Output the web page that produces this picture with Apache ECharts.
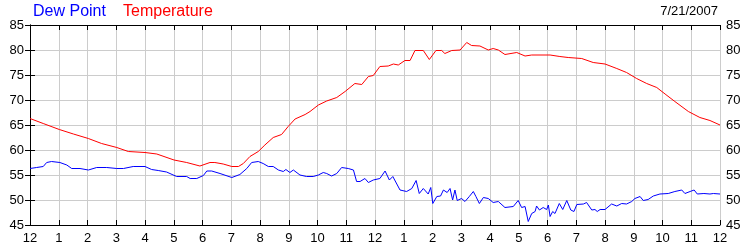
<!DOCTYPE html>
<html>
<head>
<meta charset="utf-8">
<script src="https://cdn.jsdelivr.net/npm/echarts@6/dist/echarts.min.js"></script>
<style>
html,body{margin:0;padding:0;background:#fff;}
#chart{width:750px;height:250px;}
</style>
</head>
<body>
<div id="chart"></div>
<script>
// hours since midnight
var tempHours = [0,0.46,1.02,1.51,2.03,2.49,3.02,3.42,4.0,4.41,5.01,5.45,5.91,6.26,6.43,6.72,7.02,7.25,7.42,7.65,7.94,8.17,8.46,8.75,8.98,9.22,9.57,9.74,10.03,10.32,10.67,10.96,11.30,11.54,11.77,11.94,12.17,12.46,12.64,12.81,13.04,13.22,13.39,13.68,13.89,14.12,14.32,14.43,14.67,14.96,15.19,15.36,15.65,15.94,16.11,16.29,16.52,16.93,17.22,17.45,18.09,18.43,18.72,19.19,19.59,20.0,20.41,20.75,21.10,21.45,21.80,22.09,22.43,22.90,23.30,23.65,24.0];
var tempValues = [66.3,65.3,64.1,63.2,62.3,61.3,60.5,59.7,59.5,59.2,58.0,57.5,56.8,57.5,57.5,57.2,56.7,56.7,57.3,58.7,59.7,61.0,62.5,63.1,64.7,66.2,67.1,67.7,69.0,69.8,70.5,71.7,73.3,73.1,74.7,74.9,76.7,76.8,77.2,77.0,77.9,77.9,79.9,79.9,78.1,79.9,79.9,79.3,79.9,80.0,81.5,80.9,80.8,80.0,80.3,80.0,79.1,79.5,78.8,79.0,79.0,78.7,78.5,78.3,77.5,77.2,76.3,75.5,74.3,73.3,72.5,71.2,69.7,67.7,66.5,65.9,65.0];

var dewHours = [0,0.23,0.46,0.58,0.75,1.04,1.28,1.45,1.74,2.03,2.32,2.67,3.02,3.25,3.59,4.0,4.23,4.46,4.75,5.10,5.45,5.57,5.80,6.03,6.15,6.32,6.61,7.02,7.30,7.54,7.71,7.94,8.11,8.29,8.46,8.64,8.81,8.90,9.04,9.16,9.39,9.62,9.85,10.03,10.20,10.32,10.49,10.67,10.84,11.07,11.25,11.36,11.48,11.65,11.77,11.94,12.17,12.35,12.50,12.62,12.87,13.10,13.28,13.43,13.54,13.68,13.85,13.94,14.01,14.15,14.28,14.38,14.51,14.61,14.70,14.78,14.86,15.01,15.13,15.28,15.42,15.51,15.63,15.77,15.94,16.11,16.29,16.52,16.81,16.98,17.10,17.22,17.33,17.45,17.57,17.62,17.72,17.85,17.97,18.03,18.09,18.18,18.26,18.41,18.53,18.67,18.81,18.92,19.02,19.25,19.36,19.54,19.65,19.73,19.83,20.0,20.23,20.41,20.58,20.75,20.93,21.04,21.22,21.33,21.50,21.68,21.91,22.20,22.43,22.67,22.78,22.96,23.10,23.21,23.44,23.65,23.77,24.0];
var dewValues = [56.3,56.5,56.7,57.5,57.7,57.5,57.0,56.3,56.3,56.0,56.5,56.5,56.3,56.3,56.7,56.7,56.1,55.9,55.6,54.7,54.7,54.3,54.3,54.9,55.8,55.8,55.3,54.5,55.1,56.3,57.5,57.7,57.3,56.7,56.7,56.0,55.7,56.1,55.5,56.0,55.0,54.7,54.7,55.0,55.5,55.3,54.8,55.3,56.5,56.3,56.0,53.7,53.7,54.3,53.5,54.0,54.3,55.8,54.0,54.7,52.0,51.7,52.3,53.9,51.3,52.3,51.2,52.5,49.3,50.7,50.8,52.0,51.5,52.3,50.0,52.0,49.9,50.3,49.7,50.7,51.7,50.7,49.3,50.5,50.3,49.5,49.7,48.5,48.7,49.9,48.5,48.7,45.7,47.3,47.7,48.8,48.0,48.5,48.1,49.0,46.7,47.7,47.3,49.3,48.1,49.9,48.0,47.7,49.1,49.2,49.5,48.0,48.1,47.7,48.1,48.1,49.2,48.8,49.3,49.2,49.7,50.3,50.7,49.9,50.1,50.8,51.2,51.3,51.7,52.0,51.3,51.7,52.0,51.2,51.3,51.2,51.3,51.2];

var hourLabels = ['12','1','2','3','4','5','6','7','8','9','10','11','12','1','2','3','4','5','6','7','8','9','10','11','12'];
var dateText = '7/21/2007';

function pairs(xs, ys){ return xs.map(function(x,i){ return [x, ys[i]]; }); }

var chart = echarts.init(document.getElementById('chart'), null, {renderer:'canvas'});
var labelFont = {color:'#000', fontSize:13, fontFamily:'Arial, "Liberation Sans", sans-serif'};
var gridLine = {show:true, lineStyle:{color:'#cccccc', width:1}};
var blackLine = {show:true, lineStyle:{color:'#000', width:1}};
chart.setOption({
  animation:false,
  backgroundColor:'#fff',
  grid:{left:30, right:30, top:25, bottom:25, containLabel:false},
  graphic:[
    {type:'text', left:33, top:4, style:{text:'Dew Point', fill:'#0000ff', font:'16px Arial, "Liberation Sans", sans-serif'}},
    {type:'text', left:123, top:4, style:{text:'Temperature', fill:'#ff0000', font:'16px Arial, "Liberation Sans", sans-serif'}},
    {type:'text', right:32, top:5, style:{text:dateText, fill:'#000', font:'13px Arial, "Liberation Sans", sans-serif'}}
  ],
  xAxis:[
    {type:'value', min:0, max:24, interval:1, position:'bottom',
     axisLine:blackLine, axisTick:{show:true, inside:true, length:5, lineStyle:{color:'#000'}},
     axisLabel:Object.assign({margin:7, formatter:function(v){return hourLabels[Math.round(v)];}}, labelFont),
     splitLine:gridLine},
    {type:'value', min:0, max:24, interval:1, position:'top',
     axisLine:blackLine, axisTick:{show:true, inside:true, length:5, lineStyle:{color:'#000'}},
     axisLabel:{show:false}, splitLine:{show:false}}
  ],
  yAxis:[
    {type:'value', min:45, max:85, interval:5, position:'left',
     axisLine:blackLine, axisTick:{show:true, inside:true, length:5, lineStyle:{color:'#000'}},
     axisLabel:Object.assign({margin:6}, labelFont), splitLine:gridLine},
    {type:'value', min:45, max:85, interval:5, position:'right',
     axisLine:blackLine, axisTick:{show:true, inside:true, length:5, lineStyle:{color:'#000'}},
     axisLabel:Object.assign({margin:6}, labelFont), splitLine:{show:false}}
  ],
  series:[
    {name:'Temperature', type:'line', xAxisIndex:0, yAxisIndex:0, data:pairs(tempHours,tempValues),
     showSymbol:false, symbol:'none', lineStyle:{color:'#ff0000', width:1}, itemStyle:{color:'#ff0000'}},
    {name:'Dew Point', type:'line', xAxisIndex:0, yAxisIndex:0, data:pairs(dewHours,dewValues),
     showSymbol:false, symbol:'none', lineStyle:{color:'#0000ff', width:1}, itemStyle:{color:'#0000ff'}}
  ]
});
</script>
</body>
</html>
